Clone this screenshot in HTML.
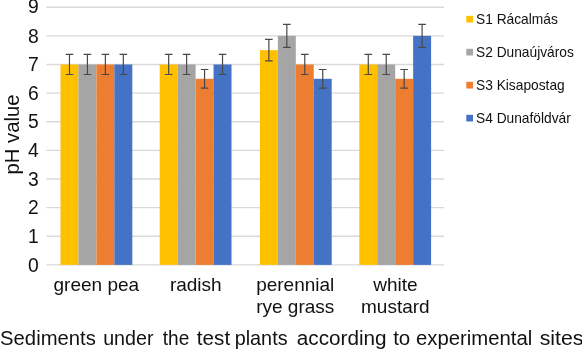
<!DOCTYPE html><html><head><meta charset="utf-8"><style>html,body{margin:0;padding:0;background:#fff}svg{display:block}text{font-family:"Liberation Sans",sans-serif;fill:#111}</style></head><body>
<svg width="582" height="349" viewBox="0 0 582 349">
<rect width="582" height="349" fill="#fff"/>
<line x1="46.4" x2="444.2" y1="264.90" y2="264.90" stroke="#D9D9D9" stroke-width="1.3"/>
<text x="38.7" y="271.60" font-size="19.3" text-anchor="end">0</text>
<line x1="46.4" x2="444.2" y1="236.27" y2="236.27" stroke="#D9D9D9" stroke-width="1.3"/>
<text x="38.7" y="242.97" font-size="19.3" text-anchor="end">1</text>
<line x1="46.4" x2="444.2" y1="207.64" y2="207.64" stroke="#D9D9D9" stroke-width="1.3"/>
<text x="38.7" y="214.34" font-size="19.3" text-anchor="end">2</text>
<line x1="46.4" x2="444.2" y1="179.01" y2="179.01" stroke="#D9D9D9" stroke-width="1.3"/>
<text x="38.7" y="185.71" font-size="19.3" text-anchor="end">3</text>
<line x1="46.4" x2="444.2" y1="150.38" y2="150.38" stroke="#D9D9D9" stroke-width="1.3"/>
<text x="38.7" y="157.08" font-size="19.3" text-anchor="end">4</text>
<line x1="46.4" x2="444.2" y1="121.75" y2="121.75" stroke="#D9D9D9" stroke-width="1.3"/>
<text x="38.7" y="128.45" font-size="19.3" text-anchor="end">5</text>
<line x1="46.4" x2="444.2" y1="93.12" y2="93.12" stroke="#D9D9D9" stroke-width="1.3"/>
<text x="38.7" y="99.82" font-size="19.3" text-anchor="end">6</text>
<line x1="46.4" x2="444.2" y1="64.49" y2="64.49" stroke="#D9D9D9" stroke-width="1.3"/>
<text x="38.7" y="71.19" font-size="19.3" text-anchor="end">7</text>
<line x1="46.4" x2="444.2" y1="35.86" y2="35.86" stroke="#D9D9D9" stroke-width="1.3"/>
<text x="38.7" y="42.56" font-size="19.3" text-anchor="end">8</text>
<line x1="46.4" x2="444.2" y1="7.23" y2="7.23" stroke="#D9D9D9" stroke-width="1.3"/>
<text x="38.7" y="12.70" font-size="19.3" text-anchor="end">9</text>
<rect x="60.50" y="64.49" width="17.95" height="200.41" fill="#FFC000"/>
<rect x="78.45" y="64.49" width="17.95" height="200.41" fill="#A5A5A5"/>
<rect x="96.40" y="64.49" width="17.95" height="200.41" fill="#ED7D31"/>
<rect x="114.35" y="64.49" width="17.95" height="200.41" fill="#4472C4"/>
<path d="M69.47 54.47V74.51M65.67 54.47h7.6M65.67 74.51h7.6" stroke="#484848" stroke-width="1.2" fill="none"/>
<path d="M87.42 54.47V74.51M83.62 54.47h7.6M83.62 74.51h7.6" stroke="#484848" stroke-width="1.2" fill="none"/>
<path d="M105.38 54.47V74.51M101.58 54.47h7.6M101.58 74.51h7.6" stroke="#484848" stroke-width="1.2" fill="none"/>
<path d="M123.32 54.47V74.51M119.52 54.47h7.6M119.52 74.51h7.6" stroke="#484848" stroke-width="1.2" fill="none"/>
<text x="96.33" y="291.30" font-size="19" text-anchor="middle">green pea</text>
<rect x="159.70" y="64.49" width="17.95" height="200.41" fill="#FFC000"/>
<rect x="177.65" y="64.49" width="17.95" height="200.41" fill="#A5A5A5"/>
<rect x="195.60" y="78.80" width="17.95" height="186.09" fill="#ED7D31"/>
<rect x="213.55" y="64.49" width="17.95" height="200.41" fill="#4472C4"/>
<path d="M168.67 54.47V74.51M164.87 54.47h7.6M164.87 74.51h7.6" stroke="#484848" stroke-width="1.2" fill="none"/>
<path d="M186.62 54.47V74.51M182.82 54.47h7.6M182.82 74.51h7.6" stroke="#484848" stroke-width="1.2" fill="none"/>
<path d="M204.57 69.50V88.11M200.77 69.50h7.6M200.77 88.11h7.6" stroke="#484848" stroke-width="1.2" fill="none"/>
<path d="M222.52 54.47V74.51M218.72 54.47h7.6M218.72 74.51h7.6" stroke="#484848" stroke-width="1.2" fill="none"/>
<text x="195.77" y="291.30" font-size="19" text-anchor="middle">radish</text>
<rect x="259.90" y="50.17" width="17.95" height="214.72" fill="#FFC000"/>
<rect x="277.85" y="35.86" width="17.95" height="229.04" fill="#A5A5A5"/>
<rect x="295.80" y="64.49" width="17.95" height="200.41" fill="#ED7D31"/>
<rect x="313.75" y="78.80" width="17.95" height="186.09" fill="#4472C4"/>
<path d="M268.88 39.44V60.91M265.07 39.44h7.6M265.07 60.91h7.6" stroke="#484848" stroke-width="1.2" fill="none"/>
<path d="M286.82 24.41V47.31M283.02 24.41h7.6M283.02 47.31h7.6" stroke="#484848" stroke-width="1.2" fill="none"/>
<path d="M304.77 54.47V74.51M300.97 54.47h7.6M300.97 74.51h7.6" stroke="#484848" stroke-width="1.2" fill="none"/>
<path d="M322.73 69.50V88.11M318.93 69.50h7.6M318.93 88.11h7.6" stroke="#484848" stroke-width="1.2" fill="none"/>
<text x="295.23" y="291.30" font-size="19" text-anchor="middle">perennial</text>
<text x="295.23" y="312.90" font-size="19" text-anchor="middle">rye grass</text>
<rect x="359.30" y="64.49" width="17.95" height="200.41" fill="#FFC000"/>
<rect x="377.25" y="64.49" width="17.95" height="200.41" fill="#A5A5A5"/>
<rect x="395.20" y="78.80" width="17.95" height="186.09" fill="#ED7D31"/>
<rect x="413.15" y="35.86" width="17.95" height="229.04" fill="#4472C4"/>
<path d="M368.28 54.47V74.51M364.48 54.47h7.6M364.48 74.51h7.6" stroke="#484848" stroke-width="1.2" fill="none"/>
<path d="M386.23 54.47V74.51M382.43 54.47h7.6M382.43 74.51h7.6" stroke="#484848" stroke-width="1.2" fill="none"/>
<path d="M404.18 69.50V88.11M400.38 69.50h7.6M400.38 88.11h7.6" stroke="#484848" stroke-width="1.2" fill="none"/>
<path d="M422.12 24.41V47.31M418.32 24.41h7.6M418.32 47.31h7.6" stroke="#484848" stroke-width="1.2" fill="none"/>
<text x="395.38" y="291.30" font-size="19" text-anchor="middle">white</text>
<text x="395.38" y="312.90" font-size="19" text-anchor="middle">mustard</text>
<text transform="translate(18.6,134.5) rotate(-90) scale(1.03,1)" font-size="19.7" text-anchor="middle">pH value</text>
<rect x="466.3" y="15.80" width="6.7" height="6.7" fill="#FFC000"/>
<text x="476.0" y="23.50" font-size="13.75" fill="#222">S1 Rácalmás</text>
<rect x="466.3" y="48.80" width="6.7" height="6.7" fill="#A5A5A5"/>
<text x="476.0" y="56.50" font-size="13.75" fill="#222">S2 Dunaújváros</text>
<rect x="466.3" y="81.80" width="6.7" height="6.7" fill="#ED7D31"/>
<text x="476.0" y="89.50" font-size="13.75" fill="#222">S3 Kisapostag</text>
<rect x="466.3" y="114.80" width="6.7" height="6.7" fill="#4472C4"/>
<text x="476.0" y="122.50" font-size="13.75" fill="#222">S4 Dunaföldvár</text>
<text transform="translate(0.09,344.5) scale(1.0135,1)" font-size="20">Sediments</text>
<text transform="translate(103.17,344.5) scale(0.9838,1)" font-size="20">under</text>
<text transform="translate(162.76,344.5) scale(0.9533,1)" font-size="20">the</text>
<text transform="translate(196.84,344.5) scale(1.0331,1)" font-size="20">test</text>
<text transform="translate(234.66,344.5) scale(0.9922,1)" font-size="20">plants</text>
<text transform="translate(296.82,344.5) scale(1.0360,1)" font-size="20">according</text>
<text transform="translate(393.14,344.5) scale(1.0258,1)" font-size="20">to</text>
<text transform="translate(415.94,344.5) scale(1.0160,1)" font-size="20">experimental</text>
<text transform="translate(539.67,344.5) scale(1.0650,1)" font-size="20">sites</text>
</svg></body></html>
